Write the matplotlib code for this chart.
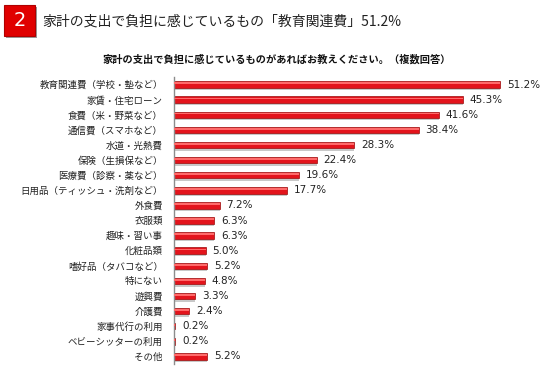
import matplotlib
matplotlib.use('Agg')
from matplotlib import pyplot as plt
from matplotlib.patches import FancyBboxPatch

plt.rcParams['font.family'] = ['Noto Sans CJK JP', 'DejaVu Sans']

# 負担に感じている支出項目と割合
categories = ['教育関連費（学校・塾など）', '家賃・住宅ローン', '食費（米・野菜など）',
              '通信費（スマホなど）', '水道・光熱費', '保険（生損保など）',
              '医療費（診察・薬など）', '日用品（ティッシュ・洗剤など）', '外食費',
              '衣服類', '趣味・習い事', '化粧品類', '嗜好品（タバコなど）', '特にない',
              '遊興費', '介護費', '家事代行の利用', 'ベビーシッターの利用', 'その他']
values = [51.2, 45.3, 41.6, 38.4, 28.3, 22.4, 19.6, 17.7, 7.2,
          6.3, 6.3, 5.0, 5.2, 4.8, 3.3, 2.4, 0.2, 0.2, 5.2]
value_labels = ['%.1f%%' % v for v in values]

title = '家計の支出で負担に感じているもの「教育関連費」51.2%'
subtitle = '家計の支出で負担に感じているものがあればお教えください。（複数回答）'

fig = plt.figure(figsize=(5.5, 3.72), dpi=100)

# 見出しの赤いボックス
box_shadow = FancyBboxPatch((6 / 550, 1 - 38 / 372), 31 / 550, 31 / 372,
                            boxstyle='square,pad=0', transform=fig.transFigure,
                            facecolor='#9a9a9a', edgecolor='none', zorder=1)
box = FancyBboxPatch((4 / 550, 1 - 36 / 372), 31 / 550, 31 / 372,
                     boxstyle='square,pad=0', transform=fig.transFigure,
                     facecolor='#e00000', edgecolor='#b00000', linewidth=0.8, zorder=2)
fig.patches.extend([box_shadow, box])
fig.text(19.5 / 550, 1 - 20.5 / 372, '2', color='white', fontsize=14,
         ha='center', va='center', family='DejaVu Sans', zorder=3)
fig.text(42 / 550, 1 - 21.5 / 372, title, fontsize=10, color='#222222',
         ha='left', va='center')
fig.text(277 / 550, 1 - 59 / 372, subtitle, fontsize=7.35, fontweight='bold',
         color='#111111', ha='center', va='center')

ax = fig.add_axes([174 / 550, 1 - 364 / 372, 356 / 550, 287 / 372])
ypos = list(range(len(categories)))

# 影・本体・ハイライトで立体的な棒にする
ax.barh([y + 0.17 for y in ypos], values, height=0.4, color='#c8c8c8', zorder=1)
ax.barh(ypos, values, height=0.43, color='#e3141c', edgecolor='#9c0a0a',
        linewidth=0.5, zorder=2)
ax.barh([y - 0.08 for y in ypos], values, height=0.12, color='#ff6a6a',
        linewidth=0, zorder=3)

for y, v, lab in zip(ypos, values, value_labels):
    ax.text(v + 1.05, y, lab, fontsize=7.5, family='DejaVu Sans',
            color='#222222', ha='left', va='center')

ax.set_xlim(0, 356 / 6.37)
ax.set_ylim(len(categories) - 0.5, -0.5)
ax.set_yticks(ypos)
ax.set_yticklabels(categories, fontsize=6.8, color='#222222')
ax.tick_params(axis='y', length=0, pad=8)
ax.set_xticks([])
for side in ['top', 'right', 'bottom']:
    ax.spines[side].set_visible(False)
ax.spines['left'].set_color('#8c8c8c')
ax.spines['left'].set_linewidth(1.0)
ax.set_facecolor('none')

fig.savefig('out.png', dpi=100)
